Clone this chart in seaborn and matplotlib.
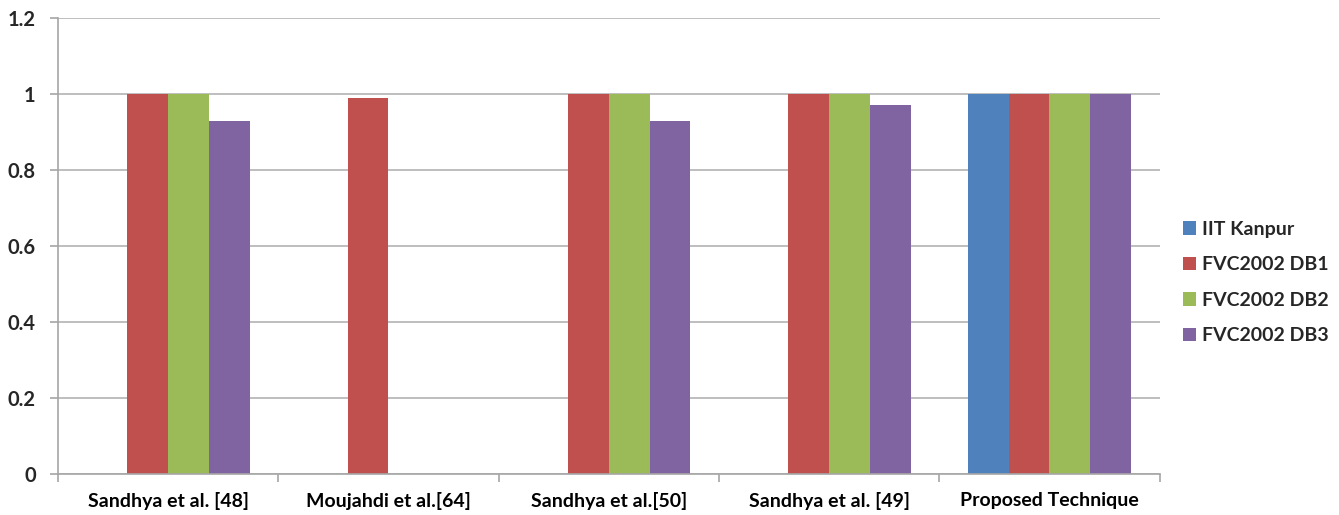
import numpy as np
import pandas as pd
import matplotlib
matplotlib.use("Agg")
import matplotlib.pyplot as plt
from matplotlib.ticker import FixedLocator, FuncFormatter
import seaborn as sns

# Methods compared on each fingerprint database
methods = ["Sandhya et al. [48]", "Moujahdi et al.[64]", "Sandhya et al.[50]",
           "Sandhya et al. [49]", "Proposed Technique"]
databases = ["IIT Kanpur", "FVC2002 DB1", "FVC2002 DB2", "FVC2002 DB3"]

iit_kanpur = [np.nan, np.nan, np.nan, np.nan, 1.0]
fvc_db1 = [1.0, 0.99, 1.0, 1.0, 1.0]
fvc_db2 = [1.0, np.nan, 1.0, 1.0, 1.0]
fvc_db3 = [0.93, np.nan, 0.93, 0.97, 1.0]

colors = ["#4F81BD", "#C0504D", "#9BBB59", "#8064A2"]

series = [iit_kanpur, fvc_db1, fvc_db2, fvc_db3]
df = pd.DataFrame({
    "Method": methods * len(databases),
    "Database": [d for d in databases for _ in methods],
    "Value": [v for s in series for v in s],
})

sns.set_theme(style="white")
plt.rcParams["font.family"] = ["Lato", "DejaVu Sans"]

fig = plt.figure(figsize=(13.39, 5.15), dpi=100)
ax = fig.add_axes([0.0433, 0.0796, 0.8227, 0.8854])

sns.barplot(data=df, x="Method", y="Value", hue="Database", order=methods,
            hue_order=databases, palette=colors, width=0.74, saturation=1,
            ax=ax, errorbar=None, edgecolor="none", linewidth=0)

ax.set_ylim(0, 1.2)
ax.set_xlim(-0.5, len(methods) - 0.5)
ax.set_yticks(np.arange(0, 1.21, 0.2))
ax.yaxis.set_major_formatter(FuncFormatter(lambda v, _: f"{v:g}"))
ax.yaxis.grid(True, color="#B3B3B3", linewidth=1.2)
ax.set_axisbelow(True)
ax.set_xlabel("")
ax.set_ylabel("")

for side in ["top", "right"]:
    ax.spines[side].set_visible(False)
for side in ["left", "bottom"]:
    ax.spines[side].set_color("#A6A6A6")
    ax.spines[side].set_linewidth(1.2)

ax.tick_params(axis="x", which="major", length=0, pad=13,
               labelsize=14, labelcolor="black")
ax.xaxis.set_minor_locator(FixedLocator(np.arange(-0.5, len(methods), 1.0)))
ax.tick_params(axis="x", which="minor", length=6, color="#A6A6A6", width=1.2,
               direction="out", bottom=True)
ax.tick_params(axis="y", which="major", length=6, color="#A6A6A6", width=1.2,
               direction="out", left=True, labelsize=14.5, pad=10)
for lbl in ax.get_xticklabels() + ax.get_yticklabels():
    lbl.set_fontweight("bold")

leg = ax.legend(loc="center left", bbox_to_anchor=(1.005, 0.42), frameon=False,
                handlelength=0.7, handleheight=0.7, handletextpad=0.3,
                labelspacing=0.95, prop={"weight": "bold", "size": 14})

fig.savefig("out.png", dpi=100)
